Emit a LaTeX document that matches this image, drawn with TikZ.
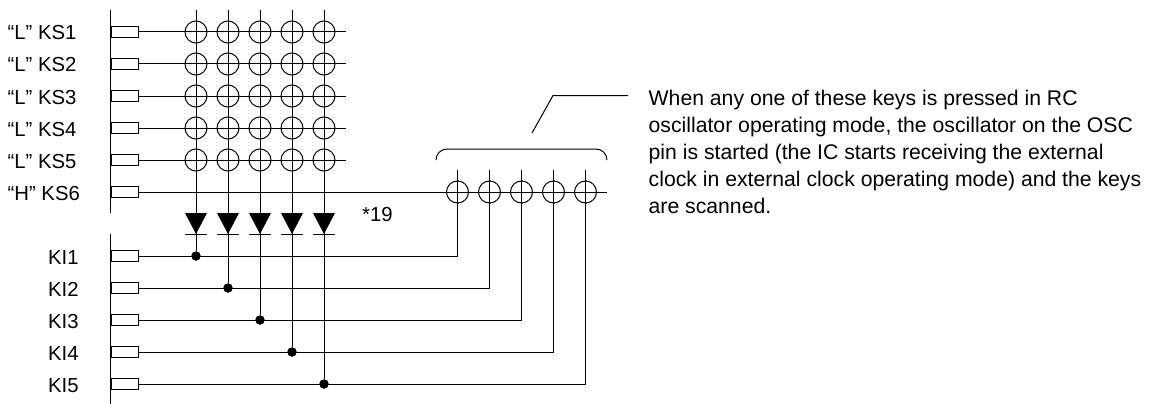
\documentclass[tikz,border=0pt]{standalone}
\usepackage{fontspec}
\setmainfont{Liberation Sans}
\usepackage{tikz}
\usetikzlibrary{calc}

\tikzset{
  wire/.style={line width=1pt, black},
  pin/.style={draw, line width=1pt, rectangle, minimum width=27pt, minimum height=11.5pt, inner sep=0pt, fill=white},
  keyring/.style={draw, line width=1pt, circle, minimum size=22pt, inner sep=0pt},
  junction/.style={fill=black, circle, minimum size=9.5pt, inner sep=0pt},
  pinlabel/.style={anchor=base west, inner sep=0pt, font=\fontsize{20.3}{24}\selectfont},
}

\begin{document}
\begin{tikzpicture}[x=1pt, y=-1pt]
  \useasboundingbox (0,0) rectangle (1151,404);

  % port lines
  \coordinate (bustop) at (110.5,10);
  \coordinate (busmid) at (110.5,213);
  \coordinate (ibustop) at (110.5,234);
  \coordinate (ibusbot) at (110.5,404);
  \draw[wire] (bustop) -- (busmid);
  \draw[wire] (ibustop) -- (ibusbot);

  % scan side
  \foreach \r/\lvl in {1/L, 2/L, 3/L, 4/L, 5/L, 6/H} {
    \node[pin, anchor=west] (ks\r) at (110.5,{32*\r}) {};
    \node[pinlabel] (ks\r label) at (7.5,{32*\r+8}) {“\lvl” KS\r};
  }
  \foreach \r in {1,...,5} {
    \coordinate (ksend\r) at (346,{32*\r});
    \draw[wire] (ks\r.east) -- (ksend\r);
  }

  % input side
  \foreach \r in {1,...,5} {
    \node[pin, anchor=west] (ki\r) at (110.5,{224+32*\r}) {};
    \node[pinlabel] (ki\r label) at (48,{232+32*\r}) {KI\r};
  }

  % matrix and diodes
  \foreach \c in {1,...,5} {
    \coordinate (coltop\c) at ({164+32*\c},10);
    \coordinate (dio\c) at ({164+32*\c},234);
    \node[junction] (jct\c) at ({164+32*\c},{224+32*\c}) {};
    \draw[wire] (coltop\c) -- (jct\c);
    \fill (dio\c) ++(-11,-21) -- ++(22,0) -- ++(-11,21) -- cycle;
    \draw[wire] ($(dio\c)+(-11,0)$) -- ($(dio\c)+(11,0)$);
    \foreach \r in {1,...,5} {
      \node[keyring] (key\c\r) at ({164+32*\c},{32*\r}) {};
    }
  }

  % extra row
  \coordinate (ksend6) at (607,192);
  \draw[wire] (ks6.east) -- (ksend6);
  \foreach \c in {1,...,5} {
    \node[keyring] (okey\c) at ({425.5+32*\c},192) {};
    \coordinate (otop\c) at ({425.5+32*\c},170);
    \coordinate (ocorner\c) at ({425.5+32*\c},{224+32*\c});
    \draw[wire] (ki\c.east) -- (ocorner\c) -- (otop\c);
  }

  \node[pinlabel] (note19) at (362,221) {*19};

  % brace and leader
  \coordinate (bl) at (436,160);
  \coordinate (br) at (607,160);
  \draw[wire, rounded corners=11pt] (bl) -- (436,149) -- (607,149) -- (br);
  \coordinate (leadstart) at (532,133);
  \coordinate (leadbend) at (553,95.5);
  \coordinate (leadend) at (628,95.5);
  \draw[wire] (leadstart) -- (leadbend) -- (leadend);

  \node[anchor=north west, inner sep=0pt, align=left, font=\fontsize{21.2}{27}\selectfont] (desc) at (648.5,89.6) {
    When any one of these keys is pressed in RC\\
    oscillator operating mode, the oscillator on the OSC\\
    pin is started (the IC starts receiving the external\\
    clock in external clock operating mode) and the keys\\
    are scanned.
  };
\end{tikzpicture}
\end{document}
